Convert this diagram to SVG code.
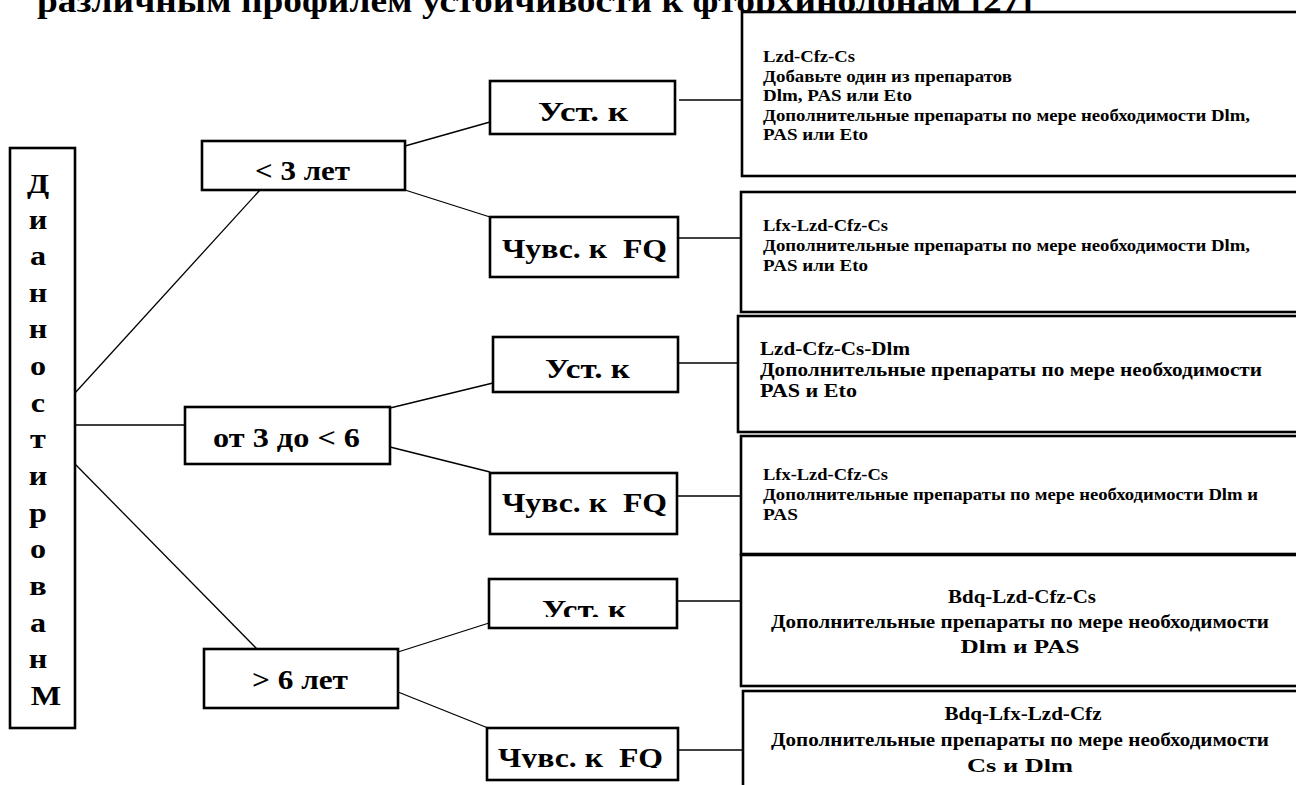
<svg xmlns="http://www.w3.org/2000/svg" width="1296" height="785" viewBox="0 0 1296 785">
<style>
.box{fill:#fff;stroke:#000;stroke-width:2.6}
.rbox{fill:#fff;stroke:#000;stroke-width:2.6}
.conn{stroke:#000;stroke-width:1.3;fill:none}
text{font-family:"Liberation Serif","Times New Roman",serif;font-weight:bold;fill:#000}
.t1{font-size:27px}
.t2{font-size:28px}
.s{font-size:17px}
.m{font-size:19px}
.c{text-anchor:middle}
</style>
<defs>
<clipPath id="clipU3"><rect x="480" y="570" width="210" height="47"/></clipPath>
<clipPath id="clipC3"><rect x="480" y="720" width="210" height="48"/></clipPath>
</defs>
<rect width="1296" height="785" fill="#fff"/>

<g id="title">
<text x="37" y="12" style="font-size:33px" textLength="996" lengthAdjust="spacingAndGlyphs">различным профилем устойчивости к фторхинолонам [27]</text>
</g>

<g id="connectors">
<line class="conn" x1="75" y1="393" x2="260" y2="190"/>
<line class="conn" x1="75" y1="425" x2="185" y2="425"/>
<line class="conn" x1="75" y1="464" x2="257" y2="649"/>
<line class="conn" x1="405" y1="146" x2="490" y2="122"/>
<line class="conn" x1="405" y1="190" x2="490" y2="217"/>
<line class="conn" x1="390" y1="408" x2="493" y2="383"/>
<line class="conn" x1="390" y1="447" x2="490" y2="472"/>
<line class="conn" x1="398" y1="652" x2="489" y2="623"/>
<line class="conn" x1="398" y1="692" x2="488" y2="728"/>
<line class="conn" x1="679" y1="100" x2="742" y2="100"/>
<line class="conn" x1="678" y1="238" x2="741" y2="238"/>
<line class="conn" x1="678" y1="363" x2="738" y2="363"/>
<line class="conn" x1="677" y1="496" x2="741" y2="496"/>
<line class="conn" x1="677" y1="601" x2="741" y2="601"/>
<line class="conn" x1="678" y1="750" x2="743" y2="750"/>
</g>

<g id="root">
<rect class="box" x="10" y="148" width="65" height="580"/>
<g transform="translate(42 2) scale(1.15 1)">
<text class="t2 c">
<tspan x="0" y="191">Д</tspan>
<tspan x="0" y="227">и</tspan>
<tspan x="0" y="263.5">а</tspan>
<tspan x="0" y="300">н</tspan>
<tspan x="0" y="336.5">н</tspan>
<tspan x="0" y="373">о</tspan>
<tspan x="0" y="410">с</tspan>
<tspan x="0" y="446.5">т</tspan>
<tspan x="0" y="483">и</tspan>
<tspan x="0" y="520">р</tspan>
<tspan x="0" y="556.5">о</tspan>
<tspan x="0" y="593">в</tspan>
<tspan x="0" y="630">а</tspan>
<tspan x="0" y="666.5">н</tspan>
<tspan x="3.5" y="703">М</tspan>
</text>
</g>
</g>

<g id="age1">
<rect class="box" x="202" y="141" width="203" height="49"/>
<text class="t1" x="255" y="180" textLength="95" lengthAdjust="spacingAndGlyphs">&lt; 3 лет</text>
</g>
<g id="age2">
<rect class="box" x="185" y="407" width="205" height="57"/>
<text class="t1" x="213" y="447" textLength="147" lengthAdjust="spacingAndGlyphs">от 3 до &lt; 6</text>
</g>
<g id="age3">
<rect class="box" x="204" y="649" width="194" height="59"/>
<text class="t1" x="252" y="689" textLength="96" lengthAdjust="spacingAndGlyphs">&gt; 6 лет</text>
</g>

<g id="res1">
<rect class="box" x="490" y="81" width="185" height="53"/>
<text class="t2" x="538" y="121" textLength="90" lengthAdjust="spacingAndGlyphs">Уст. к</text>
</g>
<g id="sens1">
<rect class="box" x="490" y="217" width="188" height="60"/>
<text class="t2" x="502" y="258" textLength="165" lengthAdjust="spacingAndGlyphs" xml:space="preserve">Чувс. к  FQ</text>
</g>
<g id="res2">
<rect class="box" x="493" y="337" width="185" height="55"/>
<text class="t2" x="545" y="378" textLength="85" lengthAdjust="spacingAndGlyphs">Уст. к</text>
</g>
<g id="sens2">
<rect class="box" x="490" y="473" width="187" height="61"/>
<text class="t2" x="502" y="512" textLength="165" lengthAdjust="spacingAndGlyphs" xml:space="preserve">Чувс. к  FQ</text>
</g>
<g id="res3">
<rect class="box" x="489" y="579" width="188" height="49"/>
<text class="t2" x="542" y="619" textLength="85" lengthAdjust="spacingAndGlyphs" clip-path="url(#clipU3)">Уст. к</text>
</g>
<g id="sens3">
<rect class="box" x="487" y="728" width="191" height="52"/>
<text class="t2" x="498" y="767" textLength="165" lengthAdjust="spacingAndGlyphs" xml:space="preserve" clip-path="url(#clipC3)">Чувс. к  FQ</text>
</g>

<g id="reg1">
<rect class="rbox" x="742" y="12" width="560" height="164"/>
<text class="s" x="763" y="62" textLength="92" lengthAdjust="spacingAndGlyphs">Lzd-Cfz-Cs</text>
<text class="s" x="763" y="81.5" textLength="249" lengthAdjust="spacingAndGlyphs">Добавьте один из препаратов</text>
<text class="s" x="763" y="101" textLength="149" lengthAdjust="spacingAndGlyphs">Dlm, PAS или Eto</text>
<text class="s" x="763" y="120.5" textLength="487" lengthAdjust="spacingAndGlyphs">Дополнительные препараты по мере необходимости Dlm,</text>
<text class="s" x="763" y="140" textLength="105" lengthAdjust="spacingAndGlyphs">PAS или Eto</text>
</g>
<g id="reg2">
<rect class="rbox" x="741" y="192" width="560" height="120"/>
<text class="s" x="763" y="231" textLength="125" lengthAdjust="spacingAndGlyphs">Lfx-Lzd-Cfz-Cs</text>
<text class="s" x="763" y="251" textLength="487" lengthAdjust="spacingAndGlyphs">Дополнительные препараты по мере необходимости Dlm,</text>
<text class="s" x="763" y="271" textLength="105" lengthAdjust="spacingAndGlyphs">PAS или Eto</text>
</g>
<g id="reg3">
<rect class="rbox" x="738" y="316" width="565" height="116"/>
<text class="m" x="760" y="355" textLength="150" lengthAdjust="spacingAndGlyphs">Lzd-Cfz-Cs-Dlm</text>
<text class="m" x="760" y="376" textLength="502" lengthAdjust="spacingAndGlyphs">Дополнительные препараты по мере необходимости</text>
<text class="m" x="760" y="397" textLength="97" lengthAdjust="spacingAndGlyphs">PAS и Eto</text>
</g>
<g id="reg4">
<rect class="rbox" x="741" y="436" width="560" height="118"/>
<text class="s" x="763" y="480" textLength="125" lengthAdjust="spacingAndGlyphs">Lfx-Lzd-Cfz-Cs</text>
<text class="s" x="763" y="500" textLength="495" lengthAdjust="spacingAndGlyphs">Дополнительные препараты по мере необходимости Dlm и</text>
<text class="s" x="763" y="520" textLength="35" lengthAdjust="spacingAndGlyphs">PAS</text>
</g>
<g id="reg5">
<rect class="rbox" x="741" y="555" width="560" height="131"/>
<text class="m c" x="1022" y="603" textLength="148" lengthAdjust="spacingAndGlyphs">Bdq-Lzd-Cfz-Cs</text>
<text class="m c" x="1020" y="628" textLength="498" lengthAdjust="spacingAndGlyphs">Дополнительные препараты по мере необходимости</text>
<text class="m c" x="1020" y="653" textLength="119" lengthAdjust="spacingAndGlyphs">Dlm и PAS</text>
</g>
<g id="reg6">
<rect class="rbox" x="743" y="691" width="560" height="120"/>
<text class="m c" x="1023" y="720" textLength="157" lengthAdjust="spacingAndGlyphs">Bdq-Lfx-Lzd-Cfz</text>
<text class="m c" x="1020" y="746" textLength="498" lengthAdjust="spacingAndGlyphs">Дополнительные препараты по мере необходимости</text>
<text class="m c" x="1020" y="772" textLength="106" lengthAdjust="spacingAndGlyphs">Cs и Dlm</text>
</g>
</svg>
